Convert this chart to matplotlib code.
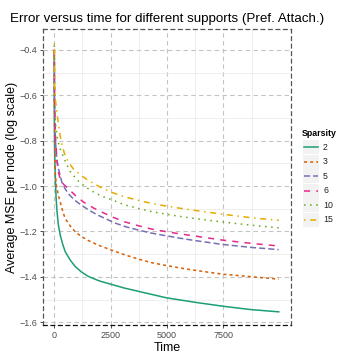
import numpy as np
import matplotlib
matplotlib.use("Agg")
from matplotlib import pyplot as plt
from matplotlib.patches import Rectangle
from matplotlib.lines import Line2D

plt.rcParams["font.family"] = ["Liberation Sans", "DejaVu Sans"]

# valores (tempo, MSE medio em escala log)
t_2 = [1, 5, 10, 20, 50, 80, 120, 180, 264, 370, 485, 700, 925, 1200, 1512, 2000, 2500, 3100, 3744, 4965, 6240, 7460, 8708, 9956]
y_2 = [-0.42, -0.70, -0.80, -0.87, -0.97, -1.05, -1.11, -1.17, -1.216, -1.255, -1.289, -1.325, -1.354, -1.378, -1.398, -1.418, -1.432, -1.449, -1.464, -1.492, -1.512, -1.529, -1.544, -1.554]

t_3 = [1, 10, 44, 80, 120, 180, 264, 370, 485, 700, 925, 1200, 1512, 2000, 2480, 3100, 3744, 4300, 4965, 5600, 6300, 7460, 8708, 9956]
y_3 = [-0.40, -0.72, -0.94, -0.99, -1.01, -1.04, -1.07, -1.11, -1.143, -1.175, -1.201, -1.222, -1.240, -1.262, -1.280, -1.302, -1.322, -1.337, -1.350, -1.361, -1.372, -1.388, -1.399, -1.410]

t_5 = [1, 10, 50, 110, 190, 337, 480, 631, 900, 1218, 1550, 1953, 2700, 3200, 3744, 4300, 4965, 5600, 6240, 7460, 8708, 9956]
y_5 = [-0.40, -0.65, -0.80, -0.88, -0.925, -0.983, -1.012, -1.034, -1.062, -1.085, -1.107, -1.129, -1.163, -1.180, -1.194, -1.207, -1.219, -1.230, -1.240, -1.257, -1.270, -1.280]

t_6 = [1, 10, 50, 120, 190, 264, 420, 631, 950, 1291, 1750, 2247, 2600, 3100, 3744, 4300, 4965, 5600, 6240, 7460, 8708, 9956]
y_6 = [-0.40, -0.63, -0.78, -0.89, -0.94, -0.970, -0.993, -1.012, -1.043, -1.070, -1.097, -1.121, -1.137, -1.157, -1.175, -1.189, -1.201, -1.211, -1.220, -1.238, -1.252, -1.264]

t_10 = [1, 10, 50, 150, 264, 485, 700, 850, 1071, 1400, 1806, 2200, 2600, 3100, 3744, 4300, 4965, 5600, 6240, 7460, 8708, 9956]
y_10 = [-0.38, -0.58, -0.72, -0.80, -0.837, -0.890, -0.935, -0.954, -0.978, -1.005, -1.030, -1.048, -1.062, -1.082, -1.099, -1.112, -1.124, -1.134, -1.143, -1.158, -1.172, -1.184]

t_15 = [1, 10, 50, 119, 190, 264, 370, 485, 650, 850, 1218, 1512, 2026, 2560, 3100, 3744, 4300, 4965, 5600, 6240, 7460, 8708, 9956]
y_15 = [-0.37, -0.55, -0.62, -0.677, -0.73, -0.779, -0.83, -0.866, -0.897, -0.925, -0.955, -0.975, -1.004, -1.028, -1.047, -1.063, -1.076, -1.088, -1.098, -1.107, -1.124, -1.139, -1.151]

esparsidade = ["2", "3", "5", "6", "10", "15"]
tempos = [t_2, t_3, t_5, t_6, t_10, t_15]
valores = [y_2, y_3, y_5, y_6, y_10, y_15]

cores = ["#1B9E77", "#D95F02", "#7570B3", "#E7298A", "#66A61E", "#E6AB02"]
estilos = ["-", (0, (2, 2)), (0, (4, 2)), (0, (4, 4)), (0, (1, 3)), (0, (1, 3, 4, 3))]

x_ticks = [0, 2500, 5000, 7500]
y_ticks = [-1.6, -1.4, -1.2, -1.0, -0.8, -0.6, -0.4]

fig = plt.figure(figsize=(3.6, 3.6), dpi=100)
ax = fig.add_axes([43 / 360, 35 / 360, 248 / 360, 296 / 360])

for t, y, c, ls in zip(tempos, valores, cores, estilos):
    ax.plot(t, y, color=c, linestyle=ls, linewidth=1.1)

ax.set_xticks(x_ticks)
ax.set_xticklabels([str(v) for v in x_ticks])
ax.set_yticks(y_ticks)
ax.set_yticklabels([f"{v:.1f}".replace("-", "\u2212") for v in y_ticks])
ax.set_xticks([1250, 3750, 6250, 8750], minor=True)
ax.set_yticks([-1.5, -1.3, -1.1, -0.9, -0.7, -0.5], minor=True)
# limites depois dos ticks (set_xticks expande os limites)
ax.set_xlim(-500, 10500)
ax.set_ylim(-1.612, -0.308)

ax.grid(which="major", color="#C4C4C4", linestyle=(0, (4, 3)), linewidth=0.8)
ax.grid(which="minor", color="#EDEDED", linestyle="-", linewidth=0.6)
ax.set_axisbelow(True)
ax.tick_params(which="major", labelsize=6.5, labelcolor="#4D4D4D", color="#333333", length=2.5, width=0.6, pad=1.5)
ax.tick_params(which="minor", length=0)
for s in ax.spines.values():
    s.set_linestyle((0, (3, 3)))
    s.set_color("#555555")
    s.set_linewidth(0.9)
ax.spines["bottom"].set_color("#111111")

ax.set_title("Error versus time for different supports (Pref. Attach.)", fontsize=9.6, pad=5)
ax.set_xlabel("Time", fontsize=9, labelpad=1.5)
ax.set_ylabel("Average MSE per node (log scale)", fontsize=9, labelpad=1)

# legenda feita a mao, com fundo cinza nas chaves
leg = fig.add_axes([298 / 360, 128 / 360, 60 / 360, 100 / 360])
leg.set_xlim(0, 60)
leg.set_ylim(100, 0)
leg.axis("off")
leg.text(4, 2, "Sparsity", fontsize=6.3, fontweight="bold", va="center")
for i, (lab, c, ls) in enumerate(zip(esparsidade, cores, estilos)):
    yc = 15 + i * 14.6
    leg.add_patch(Rectangle((5, yc - 7), 16, 14, facecolor="#F2F2F2", edgecolor="none"))
    leg.add_line(Line2D([6, 20], [yc, yc], color=c, linestyle=ls, linewidth=1.1))
    leg.text(25, yc, lab, fontsize=6.3, va="center", color="#222222")

plt.savefig("out.png", dpi=100)
